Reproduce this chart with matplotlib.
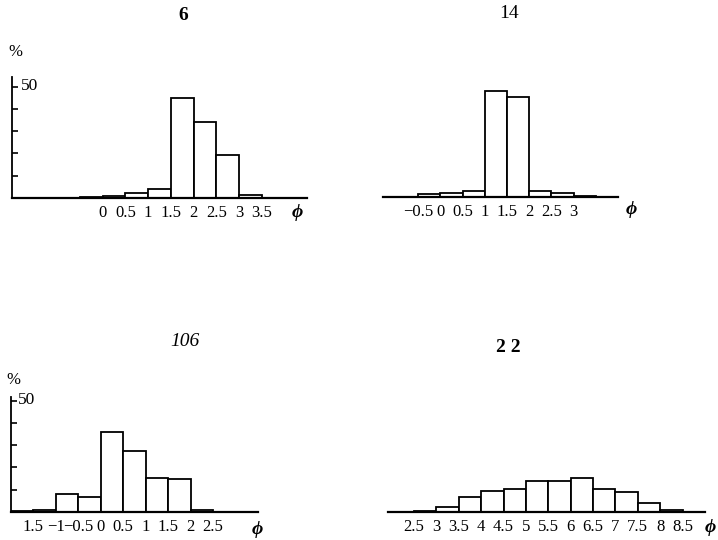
import numpy as np
import matplotlib.pyplot as plt
from matplotlib.transforms import blended_transform_factory

plt.rcParams["font.family"] = ["Liberation Serif", "DejaVu Serif"]

# grain size distributions, % per 0.5 phi class (left edge of class)
p6_edges = [-1.0, -0.5, 0.0, 0.5, 1.0, 1.5, 2.0, 2.5, 3.0]
p6_pct = [0.2, 0.4, 1.0, 2.1, 3.9, 44.8, 33.9, 19.5, 1.2]
p6_ticks = [0, 0.5, 1, 1.5, 2, 2.5, 3, 3.5]
p6_labels = ["0", "0.5", "1", "1.5", "2", "2.5", "3", "3.5"]

p14_edges = [-0.5, 0.0, 0.5, 1.0, 1.5, 2.0, 2.5, 3.0]
p14_pct = [1.3, 1.8, 2.5, 47.4, 44.8, 2.5, 2.0, 0.3]
p14_ticks = [-0.5, 0, 0.5, 1, 1.5, 2, 2.5, 3]
p14_labels = ["−0.5", "0", "0.5", "1", "1.5", "2", "2.5", "3"]

p106_edges = [-2.0, -1.5, -1.0, -0.5, 0.0, 0.5, 1.0, 1.5, 2.0]
p106_pct = [0.3, 1.0, 7.9, 6.9, 35.8, 27.3, 15.4, 14.9, 1.0]
p106_ticks = [-1.5, -1, -0.5, 0, 0.5, 1, 1.5, 2, 2.5]
p106_labels = ["1.5", "−1", "−0.5", "0", "0.5", "1", "1.5", "2", "2.5"]

p22_edges = [2.5, 3.0, 3.5, 4.0, 4.5, 5.0, 5.5, 6.0, 6.5, 7.0, 7.5, 8.0]
p22_pct = [0.6, 2.2, 6.7, 9.3, 10.1, 13.7, 13.7, 15.1, 10.1, 9.0, 4.0, 1.0]
p22_ticks = [2.5, 3, 3.5, 4, 4.5, 5, 5.5, 6, 6.5, 7, 7.5, 8, 8.5]
p22_labels = ["2.5", "3", "3.5", "4", "4.5", "5", "5.5", "6", "6.5", "7", "7.5", "8", "8.5"]

W, H = 718, 540
PX_PER_PCT = 2.23


def px_axes(fig, left, right, base, top):
    return fig.add_axes([left / W, 1 - base / H, (right - left) / W, (base - top) / H])


def draw_panel(fig, left, right, base, top, xlim, edges, pct, ticks, labels,
               title, title_xy, title_style, yaxis=False):
    ax = px_axes(fig, left, right, base, top)
    ax.bar(edges, pct, width=0.5, align="edge", facecolor="white",
           edgecolor="black", linewidth=1.3, zorder=2)
    ax.set_xlim(*xlim)
    ax.set_ylim(0, (base - top) / PX_PER_PCT)
    for s in ["top", "right"]:
        ax.spines[s].set_visible(False)
    ax.spines["bottom"].set_linewidth(1.6)
    ax.set_xticks(ticks)
    ax.set_xticklabels(labels, fontsize=12)
    ax.tick_params(axis="x", length=0, pad=5)
    if yaxis:
        ax.spines["left"].set_linewidth(1.3)
        ax.set_yticks([10, 20, 30, 40, 50])
        ax.tick_params(axis="y", direction="in", length=4, width=1.2, labelleft=False)
        ax.text(0.03, 50, "50", transform=blended_transform_factory(ax.transAxes, ax.transData),
                fontsize=12.5, ha="left", va="center")
    else:
        ax.spines["left"].set_visible(False)
        ax.set_yticks([])
    ax.patch.set_alpha(0)
    fig.text(title_xy[0] / W, 1 - title_xy[1] / H, title, ha="center", va="center",
             fontsize=14, **title_style)
    return ax


fig = plt.figure(figsize=(7.18, 5.4), dpi=100)

draw_panel(fig, 12, 307, 198, 77, (-2.0, 4.5), p6_edges, p6_pct, p6_ticks, p6_labels,
           "6", (183, 15), {"fontweight": "bold"}, yaxis=True)
draw_panel(fig, 383, 618, 197, 77, (-1.29, 4.0), p14_edges, p14_pct, p14_ticks, p14_labels,
           "14", (509, 14), {})
draw_panel(fig, 11, 258, 512, 397, (-2.0, 3.5), p106_edges, p106_pct, p106_ticks, p106_labels,
           "106", (185, 342), {"fontstyle": "italic"}, yaxis=True)
draw_panel(fig, 388, 705, 512, 397, (1.92, 9.0), p22_edges, p22_pct, p22_ticks, p22_labels,
           "2 2", (508, 347), {"fontweight": "bold"})

# axis units
for x, y in [(15, 52), (13, 380)]:
    fig.text(x / W, 1 - y / H, "%", ha="center", va="center", fontsize=12)
for x, y in [(297, 213), (631, 210), (257, 530), (710, 527)]:
    fig.text(x / W, 1 - y / H, "ϕ", ha="center", va="center", fontsize=14,
             fontweight="bold", fontstyle="italic")

fig.savefig("out.png", dpi=100)
